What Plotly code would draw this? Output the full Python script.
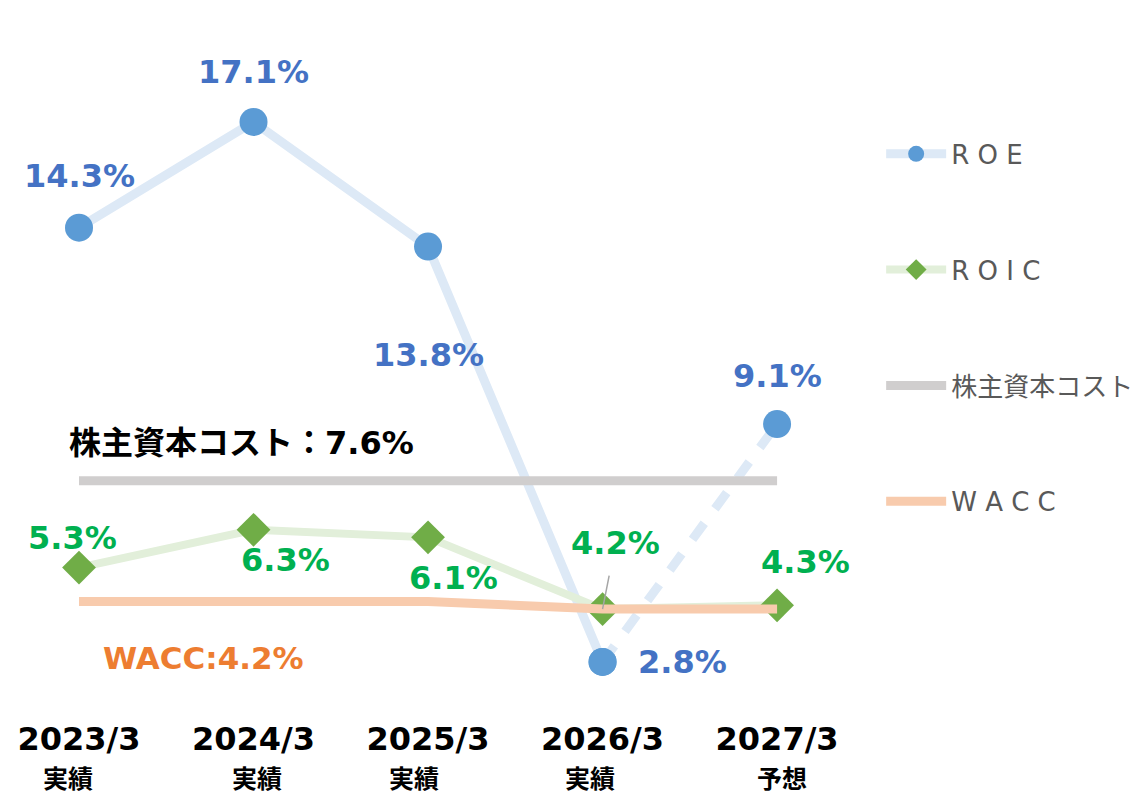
import plotly.graph_objects as go

cats = ["2023/3", "2024/3", "2025/3", "2026/3", "2027/3"]
subs = ["実績", "実績", "実績", "実績", "予想"]
roe = [14.3, 17.1, 13.8, 2.8, 9.1]
roic = [5.3, 6.3, 6.1, 4.2, 4.3]
coe = [7.6, 7.6, 7.6, 7.6, 7.6]
wacc = [4.4, 4.4, 4.4, 4.2, 4.2]

names = ["R O E", "R O I C", "株主資本コスト", "W A C C"]
coe_label = "株主資本コスト：7.6%"
wacc_label = "WACC:4.2%"

# label offsets (px) relative to points
roe_off = [(0, -52), (0, -50), (0, 108), (80, 0), (0, -48)]
roic_off = [(-7, -30), (32, 30), (25, 41), (13, -66), (28, -43)]
sub_dx = [-11, 3, -14, -13, 5]

C_ROE_L = "#dde9f6"
C_ROE_M = "#5b9bd5"
C_ROIC_L = "#e2efda"
C_ROIC_M = "#70ad47"
C_COE = "#d0cece"
C_WACC = "#f8cbad"

fig = go.Figure()
fig.add_trace(go.Scatter(x=cats[:4], y=roe[:4], mode="lines+markers", name=names[0],
                         line=dict(color=C_ROE_L, width=9),
                         marker=dict(symbol="circle", size=28, color=C_ROE_M),
                         legendrank=1, legendgroup="a"))
fig.add_trace(go.Scatter(x=cats[3:], y=roe[3:], mode="lines+markers", showlegend=False,
                         line=dict(color=C_ROE_L, width=9, dash="20px,18px"),
                         marker=dict(symbol="circle", size=28, color=C_ROE_M)))
fig.add_trace(go.Scatter(x=cats, y=coe, mode="lines", name=names[2],
                         line=dict(color=C_COE, width=9), legendrank=3, legendgroup="c"))
fig.add_trace(go.Scatter(x=cats, y=roic, mode="lines+markers", name=names[1],
                         line=dict(color=C_ROIC_L, width=8),
                         marker=dict(symbol="diamond", size=26, color=C_ROIC_M),
                         legendrank=2, legendgroup="b"))
fig.add_trace(go.Scatter(x=cats, y=wacc, mode="lines", name=names[3],
                         line=dict(color=C_WACC, width=9), legendrank=4, legendgroup="d"))

lab_font = "DejaVu Sans, Noto Sans CJK JP"
LS = 32
ann = []
for i, (c, v) in enumerate(zip(cats, roe)):
    dx, dy = roe_off[i]
    ann.append(dict(x=c, y=v, text=f"<b>{v:.1f}%</b>", showarrow=False,
                    xshift=dx, yshift=-dy, font=dict(family=lab_font, size=LS, color="#4472c4")))
for i, (c, v) in enumerate(zip(cats, roic)):
    dx, dy = roic_off[i]
    if i == 3:
        ann.append(dict(x=c, y=v, text=f"<b>{v:.1f}%</b>", showarrow=True, arrowhead=0,
                        arrowwidth=1.5, arrowcolor="#a6a6a6", ax=dx, ay=dy, borderpad=13,
                        font=dict(family=lab_font, size=LS, color="#00b050")))
    else:
        ann.append(dict(x=c, y=v, text=f"<b>{v:.1f}%</b>", showarrow=False,
                        xshift=dx, yshift=-dy, font=dict(family=lab_font, size=LS, color="#00b050")))
ann.append(dict(x=cats[0], y=coe[0], text=f"<b>{coe_label}</b>", showarrow=False,
                xanchor="left", xshift=-12, yshift=38,
                font=dict(family=lab_font, size=32, color="#000000")))
ann.append(dict(x=cats[0], y=wacc[0], text=f"<b>{wacc_label}</b>", showarrow=False,
                xanchor="left", xshift=22, yshift=-56,
                font=dict(family=lab_font, size=31, color="#ed7d31")))
for c, s, dx in zip(cats, subs, sub_dx):
    ann.append(dict(x=c, y=0, yref="paper", yanchor="middle", text=f"<b>{s}</b>",
                    showarrow=False, xshift=dx, yshift=-77,
                    font=dict(family="Noto Sans CJK JP", size=25, color="#000000")))

fig.update_layout(
    width=1140, height=795,
    margin=dict(l=0, r=280, t=32, b=103, autoexpand=False),
    paper_bgcolor="white", plot_bgcolor="white",
    showlegend=True,
    legend=dict(x=1.0153, xanchor="left", y=0.863, yanchor="top",
                tracegroupgap=79, itemwidth=60,
                font=dict(family="DejaVu Sans, Noto Sans CJK JP", size=26, color="#595959")),
    annotations=ann,
    hovermode=False,
)
fig.update_xaxes(type="category", range=[-0.4069, 4.521], showgrid=False, zeroline=False,
                 showline=False, tickvals=cats, ticktext=[f"<b>{c}</b>" for c in cats],
                 ticklabelstandoff=17,
                 tickfont=dict(family="DejaVu Sans", size=32, color="#000000"))
fig.update_yaxes(range=[1.793, 19.27], visible=False)

fig.write_html("out.html")
